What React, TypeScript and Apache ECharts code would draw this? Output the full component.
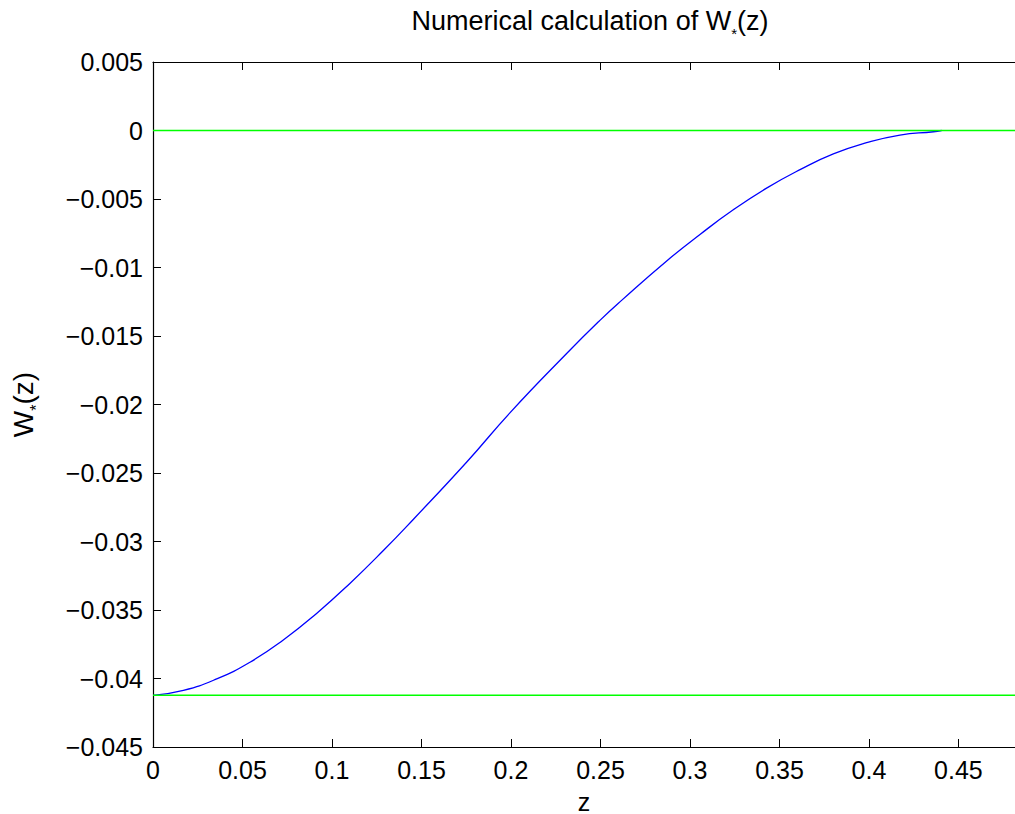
import React, { useEffect, useRef } from "react";
import * as echarts from "echarts";

// Curve W*(z)
const zValues = [0, 0.017, 0.0356, 0.0542, 0.0728, 0.0914, 0.11, 0.1287, 0.1454, 0.1753, 0.1994, 0.2311, 0.2497, 0.2618, 0.287, 0.3056, 0.3242, 0.3428, 0.3615, 0.3801, 0.3987, 0.4173, 0.436, 0.4406];
const wValues = [-0.04123, -0.04087, -0.04003, -0.03881, -0.03719, -0.03525, -0.03306, -0.03066, -0.02839, -0.0242, -0.02061, -0.01628, -0.01386, -0.0124, -0.00952, -0.00759, -0.00579, -0.00421, -0.00286, -0.00171, -0.00089, -0.00033, -0.00009, 0];
// Horizontal reference levels (green lines)
const greenLevels = [0, -0.04123];

const X_MIN = 0;
const X_MAX = 0.4816;
const X_INTERVAL = 0.05;
const Y_MIN = -0.045;
const Y_MAX = 0.005;
const Y_INTERVAL = 0.005;

const FONT = "'Liberation Sans', Arial, Helvetica, sans-serif";

function fmt(v: number): string {
  const r = Number(Math.abs(v).toFixed(3));
  if (r === 0) return "0";
  return (v < 0 ? "\u2212" : "") + String(r);
}

export default function App() {
  const ref = useRef<HTMLDivElement>(null);
  useEffect(() => {
    document.body.style.margin = "0";
    if (!ref.current) return;
    const chart = echarts.init(ref.current, null, { renderer: "svg" });
    const curve = zValues.map((z, i) => [z, wValues[i]]);
    const greenSeries = greenLevels.map((lvl) => ({
      type: "line",
      data: [
        [X_MIN, lvl],
        [X_MAX, lvl],
      ],
      symbol: "none",
      lineStyle: { color: "#00ff00", width: 1.5 },
      z: 3,
      silent: true,
    }));
    const tickStyle = { color: "#000", width: 1 };
    chart.setOption({
      animation: false,
      backgroundColor: "#ffffff",
      title: {
        text: "Numerical calculation of W{s|*}(z)",
        left: 585,
        top: -4,
        textAlign: "center",
        textStyle: {
          fontFamily: FONT,
          fontSize: 27,
          fontWeight: "normal",
          color: "#000",
          lineHeight: 40,
          rich: {
            s: { fontFamily: FONT, fontSize: 15, lineHeight: 14, verticalAlign: "bottom", color: "#000" },
          },
        },
      },
      grid: { left: 153, top: 62, right: 0, bottom: 67, containLabel: false, outerBoundsMode: "none" },
      xAxis: [
        {
          type: "value",
          min: X_MIN,
          max: X_MAX,
          interval: X_INTERVAL,
          position: "bottom",
          name: "z",
          nameLocation: "middle",
          nameGap: 42,
          nameTextStyle: { fontFamily: FONT, fontSize: 25, color: "#000" },
          axisLine: { show: true, onZero: false, lineStyle: { color: "#000", width: 1.2 } },
          axisTick: { show: true, inside: true, length: 8, lineStyle: tickStyle },
          axisLabel: {
            show: true,
            margin: 10,
            showMaxLabel: false,
            fontFamily: FONT,
            fontSize: 25,
            color: "#000",
            formatter: (v: number) => fmt(v),
          },
          splitLine: { show: false },
        },
        {
          type: "value",
          min: X_MIN,
          max: X_MAX,
          interval: X_INTERVAL,
          position: "top",
          axisLine: { show: true, onZero: false, lineStyle: { color: "#000", width: 1.2 } },
          axisTick: { show: true, inside: true, length: 8, lineStyle: tickStyle },
          axisLabel: { show: false },
          splitLine: { show: false },
        },
      ],
      yAxis: {
        type: "value",
        min: Y_MIN,
        max: Y_MAX,
        interval: Y_INTERVAL,
        name: "W{s|*}(z)",
        nameLocation: "middle",
        nameRotate: 90,
        nameGap: 109,
        nameTextStyle: {
          fontFamily: FONT,
          fontSize: 28,
          color: "#000",
          lineHeight: 42,
          rich: {
            s: { fontFamily: FONT, fontSize: 16, lineHeight: 15, verticalAlign: "bottom", color: "#000" },
          },
        },
        axisLine: { show: true, onZero: false, lineStyle: { color: "#000", width: 1.2 } },
        axisTick: { show: true, inside: true, length: 8, lineStyle: tickStyle },
        axisLabel: {
          margin: 10,
          fontFamily: FONT,
          fontSize: 25,
          color: "#000",
          formatter: (v: number) => fmt(v),
        },
        splitLine: { show: false },
      },
      series: [
        {
          type: "line",
          data: curve,
          symbol: "none",
          smooth: 0.5,
          lineStyle: { color: "#0000ff", width: 1.3 },
          z: 2,
          silent: true,
        },
        ...greenSeries,
      ],
    });
    return () => chart.dispose();
  }, []);
  return (
    <div
      ref={ref}
      style={{ position: "absolute", left: 0, top: 0, width: 1015, height: 814 }}
    />
  );
}
